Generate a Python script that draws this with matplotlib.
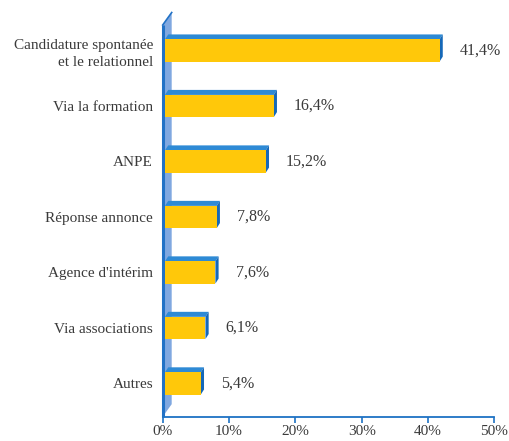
import matplotlib
matplotlib.use("Agg")
import matplotlib.pyplot as plt
from matplotlib.patches import Polygon, Rectangle

categories = ["Autres", "Via associations", "Agence d'intérim", "Réponse annonce",
              "ANPE", "Via la formation", "Candidature spontanée\net le relationnel"]
values = [5.4, 6.1, 7.6, 7.8, 15.2, 16.4, 41.4]
value_labels = ["5,4%", "6,1%", "7,6%", "7,8%", "15,2%", "16,4%", "41,4%"]
xticks = [0, 10, 20, 30, 40, 50]
xtick_labels = ["0%", "10%", "20%", "30%", "40%", "50%"]

FONT = "Liberation Serif"
TXT = "#3a3a3a"
YELLOW = "#FFC80A"
TOP = "#2E8AD5"
SIDE = "#1568B8"
WALL = "#80A8E0"
WALL_EDGE = "#2272C6"
AXIS = "#1E72C4"

W, H = 510, 441
fig = plt.figure(figsize=(W / 100, H / 100), dpi=100)
ax = fig.add_axes([162.7 / W, (H - 416.7) / H, (494.3 - 162.7) / W, 391.7 / H])
ax.set_xlim(0, 50)
ax.set_ylim(-0.6, 6.46)

# pixel -> data conversions
ppx = (494.3 - 162.7) / 50.0   # px per %
ppy = 391.7 / 7.06             # px per category unit
def dxp(p): return p / ppx
def dyp(p): return p / ppy

ymin, ymax = ax.get_ylim()

# back wall
wdx, wdy = dxp(9), dyp(12.5)
wall = Polygon([(0, ymin), (0, ymax), (wdx, ymax + wdy), (wdx, ymin + wdy)],
               closed=True, facecolor=WALL, edgecolor="none", clip_on=False, zorder=1)
ax.add_patch(wall)
ax.plot([0, 0], [ymin, ymax], color=WALL_EDGE, lw=2.2, clip_on=False, zorder=1.5,
        solid_capstyle="butt")
ax.plot([0, wdx], [ymax, ymax + wdy], color=WALL_EDGE, lw=1.2, clip_on=False, zorder=1.5)

# bars
bh = 0.40
x0 = dxp(2.3)
bdx, bdy = dxp(3.2), dyp(5)
for i, v in enumerate(values):
    bot, top = i - bh / 2, i + bh / 2
    ax.add_patch(Polygon([(x0, top), (x0 + v, top), (x0 + v + bdx, top + bdy), (x0 + bdx, top + bdy)],
                         closed=True, facecolor=TOP, edgecolor="none", zorder=2))
    ax.add_patch(Polygon([(x0 + v, bot), (x0 + v, top), (x0 + v + bdx, top + bdy), (x0 + v + bdx, bot + bdy)],
                         closed=True, facecolor=SIDE, edgecolor="none", zorder=2))
    ax.add_patch(Rectangle((x0, bot), v, bh, facecolor=YELLOW, edgecolor="none", zorder=3))
    ax.text(x0 + v + bdx + dxp(17), i, value_labels[i], ha="left", va="center",
            fontsize=11.5, family=FONT, color=TXT)

# axes styling
for s in ["top", "right", "left"]:
    ax.spines[s].set_visible(False)
ax.spines["bottom"].set_color(AXIS)
ax.spines["bottom"].set_linewidth(1.3)
ax.set_xticks(xticks)
ax.set_xticklabels(xtick_labels, family=FONT, fontsize=11, color=TXT)
ax.tick_params(axis="x", colors=AXIS, direction="out", length=4.5, width=1.2, pad=1.5,
               labelcolor=TXT)
ax.set_yticks(range(len(categories)))
ax.set_yticklabels(categories, family=FONT, fontsize=11, color=TXT, ha="right",
                   multialignment="right", linespacing=1.35)
ax.tick_params(axis="y", length=0, pad=7)
ax.patch.set_alpha(0)

fig.savefig("out.png", dpi=100)
